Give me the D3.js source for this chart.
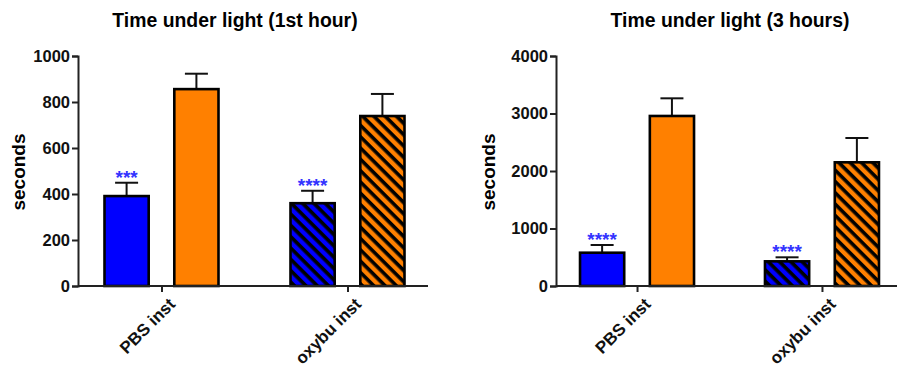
<!DOCTYPE html>
<html><head><meta charset="utf-8">
<script src="https://cdn.jsdelivr.net/npm/d3@7"></script>
<style>body{margin:0;background:#fff;} text{font-family:"Liberation Sans",Arial,sans-serif;font-weight:bold;}</style>
</head><body><svg id="c" width="897" height="376"></svg>
<script>
const categories = ["PBS inst", "oxybu inst"];
const series = ["blue", "orange"];
const titles = ["Time under light (1st hour)", "Time under light (3 hours)"];
const hour1Mean = [[391, 856], [360, 739]];
const hour1Err  = [[449, 923], [414, 835]];
const hour3Mean = [[579, 2957], [429, 2151]];
const hour3Err  = [[713, 3264], [499, 2574]];
const hour1Ticks = [0, 200, 400, 600, 800, 1000];
const hour3Ticks = [0, 1000, 2000, 3000, 4000];
const hour1Stars = ["***", "****"];
const hour3Stars = ["****", "****"];
const yLabel = "seconds";

const svg = d3.select("#c");
const colors = {blue: "#0000ff", orange: "#ff8000"};
const defs = svg.append("defs");
series.forEach(s => {
  const p = defs.append("pattern").attr("id", "hatch-" + s)
    .attr("patternUnits", "userSpaceOnUse").attr("width", 8).attr("height", 8)
    .attr("patternTransform", "rotate(45)");
  p.append("rect").attr("width", 8).attr("height", 8).attr("fill", colors[s]);
  p.append("rect").attr("width", 8).attr("height", 3.6).attr("fill", "#000");
});

function panel(cfg) {
  const g = svg.append("g");
  const y = d3.scaleLinear().domain([0, cfg.ticks[cfg.ticks.length - 1]]).range([286, 56]);
  const x = d3.scalePoint().domain(categories).range(cfg.xRange).padding(0.45);
  const xi = d3.scaleBand().domain(series).range([-57, 57]).paddingInner(0.367);

  g.append("text").attr("x", cfg.titleX).attr("y", 27).attr("text-anchor", "middle")
    .attr("font-size", 19.4).text(cfg.title);

  categories.forEach((c, ci) => {
    series.forEach((s, si) => {
      const bx = x(c) + xi(s), bw = xi.bandwidth();
      const cx = bx + bw / 2;
      g.append("line").attr("x1", cx).attr("x2", cx).attr("y1", y(cfg.mean[ci][si])).attr("y2", y(cfg.err[ci][si]))
        .attr("stroke", "#111").attr("stroke-width", 2);
      g.append("line").attr("x1", cx - 11.5).attr("x2", cx + 11.5).attr("y1", y(cfg.err[ci][si])).attr("y2", y(cfg.err[ci][si]))
        .attr("stroke", "#111").attr("stroke-width", 2);
      const fill = ci === 0 ? colors[s] : "url(#hatch-" + s + ")";
      g.append("rect").attr("x", bx).attr("y", y(cfg.mean[ci][si]))
        .attr("width", bw).attr("height", y(0) - y(cfg.mean[ci][si]))
        .attr("fill", fill).attr("stroke", "#000").attr("stroke-width", 2.6);
      if (si === 0) {
        g.append("text").attr("x", cx).attr("y", y(cfg.err[ci][si]) + 1)
          .attr("text-anchor", "middle").attr("font-size", 19).attr("font-weight", "normal")
          .attr("fill", "#3333ff").text(cfg.stars[ci]);
      }
    });
  });

  const ya = g.append("g").attr("transform", `translate(${cfg.axisX},0)`)
    .call(d3.axisLeft(y).tickValues(cfg.ticks).tickSize(6).tickPadding(2).tickFormat(d3.format("d")));
  ya.select(".domain").attr("stroke", "#222").attr("stroke-width", 2);
  ya.selectAll(".tick line").attr("stroke", "#222").attr("stroke-width", 2);
  ya.selectAll(".tick text").attr("font-size", 16.5).attr("fill", "#111")
    .attr("font-family", "Liberation Sans, Arial, sans-serif").attr("font-weight", "bold");

  g.append("line").attr("x1", cfg.axisX).attr("x2", cfg.axisEnd).attr("y1", 286).attr("y2", 286)
    .attr("stroke", "#222").attr("stroke-width", 2);
  const xa = g.append("g").attr("transform", "translate(0,286)")
    .call(d3.axisBottom(x).tickSize(6).tickPadding(0));
  xa.select(".domain").remove();
  xa.selectAll(".tick line").attr("stroke", "#222").attr("stroke-width", 2);
  xa.selectAll(".tick text").attr("font-size", 17).attr("fill", "#111")
    .attr("font-family", "Liberation Sans, Arial, sans-serif").attr("font-weight", "bold")
    .attr("text-anchor", "end").attr("dy", 0)
    .attr("transform", "translate(10,15) rotate(-45)");

  g.append("text").attr("transform", `translate(${cfg.yLabelX},172) rotate(-90)`)
    .attr("text-anchor", "middle").attr("font-size", 19).text(yLabel);
}

panel({title: titles[0], titleX: 235, mean: hour1Mean, err: hour1Err, ticks: hour1Ticks, stars: hour1Stars,
  xRange: [77.8, 431.2], axisX: 78, axisEnd: 428, yLabelX: 25});
panel({title: titles[1], titleX: 730, mean: hour3Mean, err: hour3Err, ticks: hour3Ticks, stars: hour3Stars,
  xRange: [553.8, 905.2], axisX: 556, axisEnd: 897, yLabelX: 495});
</script></body></html>
